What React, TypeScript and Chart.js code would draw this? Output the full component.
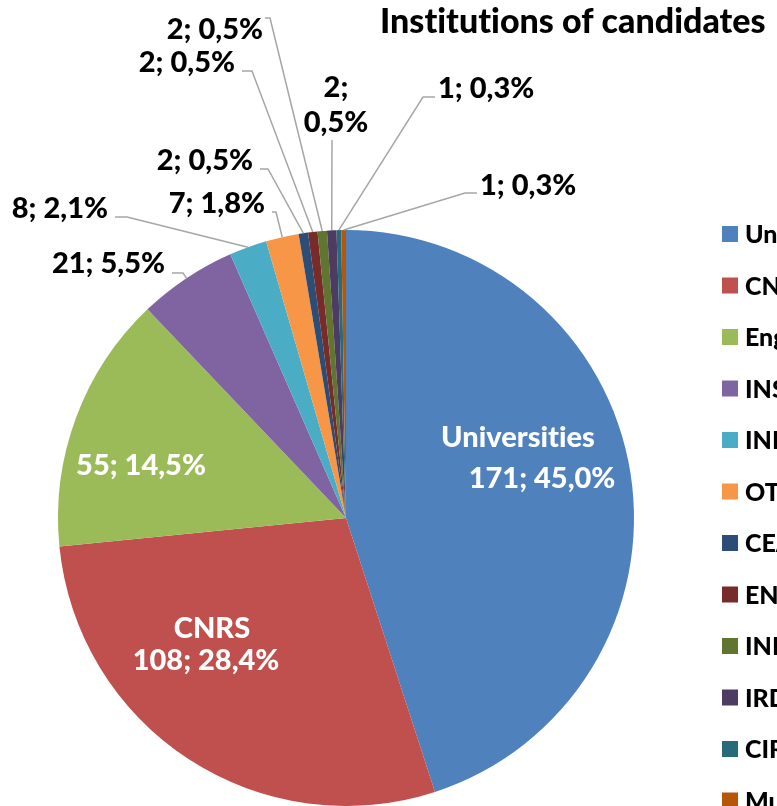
import React, { useEffect, useRef } from "react";
import { Chart, registerables } from "chart.js";

Chart.register(...registerables);

// ---- Data ----
const categories = [
  "Universities",
  "CNRS",
  "Engineering schools",
  "INSERM",
  "INRIA",
  "OTHER",
  "CEA",
  "ENS",
  "INRA",
  "IRD",
  "CIRAD",
  "Museum",
];
const counts = [171, 108, 55, 21, 8, 7, 2, 2, 2, 2, 1, 1];
const colors = [
  "#4F81BD",
  "#C0504D",
  "#9BBB59",
  "#8064A2",
  "#4BACC6",
  "#F79646",
  "#2C4D75",
  "#772C2A",
  "#5F7530",
  "#4D3B62",
  "#276A7C",
  "#B65708",
];
const titleText = "Institutions of candidates";

// ---- Layout of data labels (positions / styles only) ----
type Line = { kind: "name" | "value" | "count" | "pct"; x: number; y: number };
type LabelLayout = {
  lines: Line[];
  align: CanvasTextAlign;
  color: string;
  leader?: [number, number][];
};
const labelLayout: LabelLayout[] = [
  { lines: [{ kind: "name", x: 518, y: 447 }, { kind: "value", x: 542, y: 488 }], align: "center", color: "#FFFFFF" },
  { lines: [{ kind: "name", x: 212, y: 638 }, { kind: "value", x: 206, y: 670 }], align: "center", color: "#FFFFFF" },
  { lines: [{ kind: "value", x: 141, y: 475 }], align: "center", color: "#FFFFFF" },
  { lines: [{ kind: "value", x: 165, y: 273 }], align: "right", color: "#000000", leader: [[172, 273], [183, 273]] },
  { lines: [{ kind: "value", x: 108, y: 218 }], align: "right", color: "#000000", leader: [[115, 217], [127, 217]] },
  { lines: [{ kind: "value", x: 265, y: 213 }], align: "right", color: "#000000", leader: [[272, 212], [276, 212]] },
  { lines: [{ kind: "value", x: 253, y: 170 }], align: "right", color: "#000000", leader: [[260, 169], [268, 169]] },
  { lines: [{ kind: "value", x: 235, y: 72 }], align: "right", color: "#000000", leader: [[242, 71], [252, 71]] },
  { lines: [{ kind: "value", x: 263, y: 39 }], align: "right", color: "#000000", leader: [[265, 18], [270, 18]] },
  { lines: [{ kind: "count", x: 336, y: 97 }, { kind: "pct", x: 336, y: 132 }], align: "center", color: "#000000", leader: [[332, 140]] },
  { lines: [{ kind: "value", x: 438, y: 98 }], align: "left", color: "#000000", leader: [[435, 97], [423, 97]] },
  { lines: [{ kind: "value", x: 480, y: 195 }], align: "left", color: "#000000", leader: [[477, 193], [465, 193]] },
];

const FONT = "Lato, 'Open Sans', 'DejaVu Sans', sans-serif";
const WEIGHT = "900";

function pctText(v: number, total: number) {
  return (Math.round((v / total) * 1000) / 10).toFixed(1).replace(".", ",") + "%";
}

const overlayPlugin = {
  id: "overlay",
  afterDatasetsDraw(chart: any) {
    const ctx: CanvasRenderingContext2D = chart.ctx;
    const meta = chart.getDatasetMeta(0);
    const data: number[] = chart.data.datasets[0].data;
    const total = data.reduce((a, b) => a + b, 0);
    ctx.save();
    try {
      (ctx as any).letterSpacing = "0.01px";
    } catch (e) {}

    // leader lines
    ctx.strokeStyle = "#A6A6A6";
    ctx.lineWidth = 1.5;
    labelLayout.forEach((lay, i) => {
      if (!lay.leader) return;
      const arc = meta.data[i];
      const p = arc.getProps(["x", "y", "startAngle", "endAngle", "outerRadius"], true);
      const mid = (p.startAngle + p.endAngle) / 2;
      const ex = p.x + Math.cos(mid) * p.outerRadius;
      const ey = p.y + Math.sin(mid) * p.outerRadius;
      ctx.beginPath();
      ctx.moveTo(lay.leader[0][0], lay.leader[0][1]);
      for (let k = 1; k < lay.leader.length; k++) ctx.lineTo(lay.leader[k][0], lay.leader[k][1]);
      ctx.lineTo(ex, ey);
      ctx.stroke();
    });

    // labels
    ctx.font = `${WEIGHT} 29px ${FONT}`;
    ctx.textBaseline = "alphabetic";
    labelLayout.forEach((lay, i) => {
      const v = data[i];
      ctx.fillStyle = lay.color;
      ctx.textAlign = lay.align;
      lay.lines.forEach((ln) => {
        let t = "";
        if (ln.kind === "name") t = chart.data.labels[i];
        else if (ln.kind === "value") t = `${v}; ${pctText(v, total)}`;
        else if (ln.kind === "count") t = `${v};`;
        else t = pctText(v, total);
        ctx.fillText(t, ln.x, ln.y);
      });
    });

    // title
    ctx.fillStyle = "#000000";
    ctx.textAlign = "left";
    ctx.font = `${WEIGHT} 34px ${FONT}`;
    ctx.fillText(titleText, 380, 33);

    // legend
    ctx.font = `${WEIGHT} 25px ${FONT}`;
    chart.data.labels.forEach((lab: string, i: number) => {
      const cy = 234 + i * 51.5;
      ctx.fillStyle = colors[i];
      ctx.fillRect(722, cy - 8, 16, 16);
      ctx.fillStyle = "#000000";
      ctx.fillText(lab, 745, cy + 9);
    });
    ctx.restore();
  },
};

export default function App() {
  const ref = useRef<HTMLCanvasElement | null>(null);
  useEffect(() => {
    let chart: Chart | null = null;
    let cancelled = false;
    const make = () => {
      if (cancelled || !ref.current) return;
      chart = new Chart(ref.current, {
        type: "pie",
        data: {
          labels: categories,
          datasets: [
            {
              data: counts,
              backgroundColor: colors,
              borderWidth: 0,
            },
          ],
        },
        options: {
          responsive: false,
          animation: false,
          devicePixelRatio: 1,
          layout: { padding: { left: 58, right: 143, top: 230, bottom: 0 } },
          plugins: {
            legend: { display: false },
            tooltip: { enabled: false },
            title: { display: false },
          },
        },
        plugins: [overlayPlugin],
      });
    };
    const fonts: any = (document as any).fonts;
    if (fonts && fonts.load) {
      Promise.all([fonts.load(`${WEIGHT} 29px Lato`), fonts.load(`${WEIGHT} 34px Lato`)])
        .catch(() => {})
        .then(make);
    } else make();
    return () => {
      cancelled = true;
      if (chart) chart.destroy();
    };
  }, []);
  return (
    <div
      style={{
        position: "absolute",
        left: 0,
        top: 0,
        width: 777,
        height: 806,
        overflow: "hidden",
        background: "#FFFFFF",
      }}
    >
      <canvas ref={ref} width={777} height={806} style={{ display: "block" }} />
    </div>
  );
}
